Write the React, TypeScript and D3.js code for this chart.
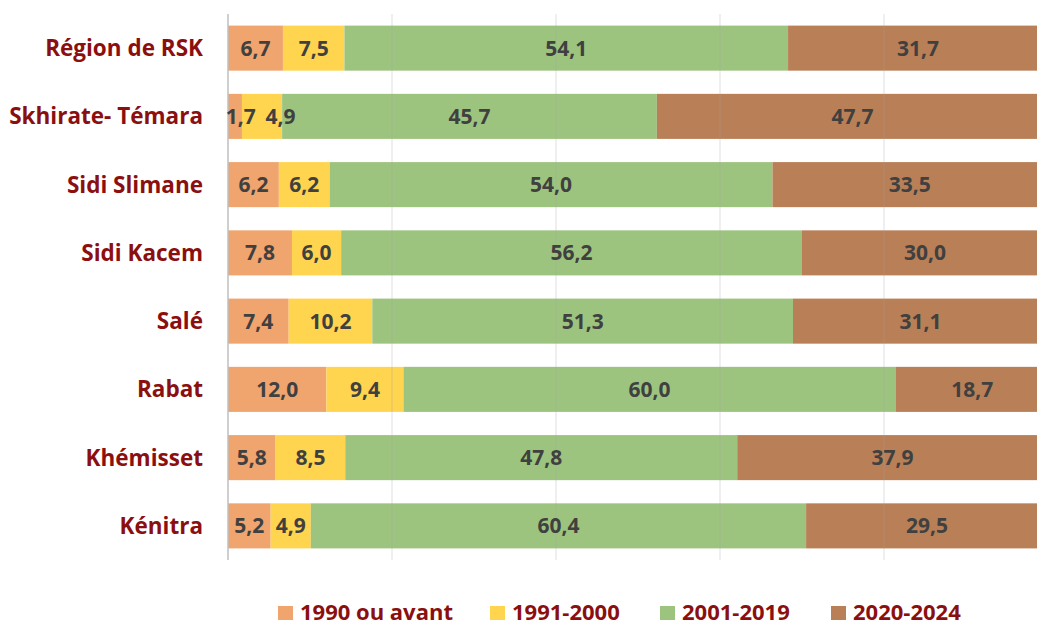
import React from "react";
import * as d3 from "d3";

const categories = ["Région de RSK", "Skhirate- Témara", "Sidi Slimane", "Sidi Kacem", "Salé", "Rabat", "Khémisset", "Kénitra"];
const seriesNames = ["1990 ou avant", "1991-2000", "2001-2019", "2020-2024"];
const s1990 = [6.7, 1.7, 6.2, 7.8, 7.4, 12.0, 5.8, 5.2];
const s1991 = [7.5, 4.9, 6.2, 6.0, 10.2, 9.4, 8.5, 4.9];
const s2001 = [54.1, 45.7, 54.0, 56.2, 51.3, 60.0, 47.8, 60.4];
const s2020 = [31.7, 47.7, 33.5, 30.0, 31.1, 18.7, 37.9, 29.5];
const gridTicks = [0, 20, 40, 60, 80, 100];

const colors = ["#F0A46E", "#FFD44F", "#9DC47F", "#B97F56"];
const labelColor = "#8B0F0F";
const FONT = "'Open Sans', Lato, sans-serif";
const VAL_FS = 21;

export default function App() {
  const W = 1037, H = 624;
  const x = d3.scaleLinear().domain([0, 100]).range([228, 1048]);
  const y = d3.scaleBand<string>().domain(categories).range([14, 560]).paddingInner(0.34).paddingOuter(0.17);
  const allSeries = [s1990, s1991, s2001, s2020];
  const rows = categories.map((c, i) => {
    const obj: any = { cat: c };
    seriesNames.forEach((s, j) => (obj[s] = allSeries[j][i]));
    return obj;
  });
  const stacked = d3.stack<any>().keys(seriesNames)(rows);
  const fmt = (v: number) => v.toFixed(1).replace(".", ",");
  const legendX = [278, 490, 660, 831];

  // label positions with simple overlap avoidance per row
  const labels: { x: number; y: number; t: string }[] = [];
  categories.forEach((c, i) => {
    let prevRight = x(0) - 2;
    stacked.forEach((layer) => {
      const d = layer[i];
      const t = fmt(d[1] - d[0]);
      const w = (t.length - 1) * 0.572 * VAL_FS + 0.27 * VAL_FS;
      let cx = (x(d[0]) + x(d[1])) / 2;
      const gap = labels.length && prevRight > x(0) ? 10 : 0;
      if (cx - w / 2 < prevRight + gap) cx = prevRight + gap + w / 2;
      prevRight = cx + w / 2;
      labels.push({ x: cx, y: y(c)! + y.bandwidth() / 2, t });
    });
  });

  return (
    <svg width={W} height={H} style={{ position: "absolute", left: 0, top: 0, background: "#fff" }}>
      {stacked.map((layer, j) => (
        <g key={j}>
          {layer.map((d, i) => (
            <rect key={i} x={x(d[0])} y={y(categories[i])!} width={x(d[1]) - x(d[0])} height={y.bandwidth()} fill={colors[j]} />
          ))}
        </g>
      ))}
      {gridTicks.slice(1).map((t) => (
        <line key={t} x1={x(t)} x2={x(t)} y1={14} y2={560} stroke="#A0A0A0" strokeOpacity={0.35} strokeWidth={1} />
      ))}
      <line x1={x(0)} x2={x(0)} y1={14} y2={560} stroke="#BFBFBF" strokeWidth={1.5} />
      {labels.map((l, k) => (
        <text key={k} x={l.x} y={l.y} dy="0.36em" textAnchor="middle"
          fontFamily={FONT} fontWeight="bold" fontSize={VAL_FS} fill="#404040">{l.t}</text>
      ))}
      {categories.map((c) => (
        <text key={c} x={203} y={y(c)! + y.bandwidth() / 2} dy="0.36em" textAnchor="end" fontFamily={FONT} fontWeight="bold" fontSize={22.5} fill={labelColor}>{c}</text>
      ))}
      {seriesNames.map((s, j) => (
        <g key={s}>
          <rect x={legendX[j]} y={606} width={15} height={14} fill={colors[j]} />
          <text x={legendX[j] + 22} y={612} dy="0.36em" fontFamily={FONT} fontWeight="bold" fontSize={22} fill={labelColor}>{s}</text>
        </g>
      ))}
    </svg>
  );
}
